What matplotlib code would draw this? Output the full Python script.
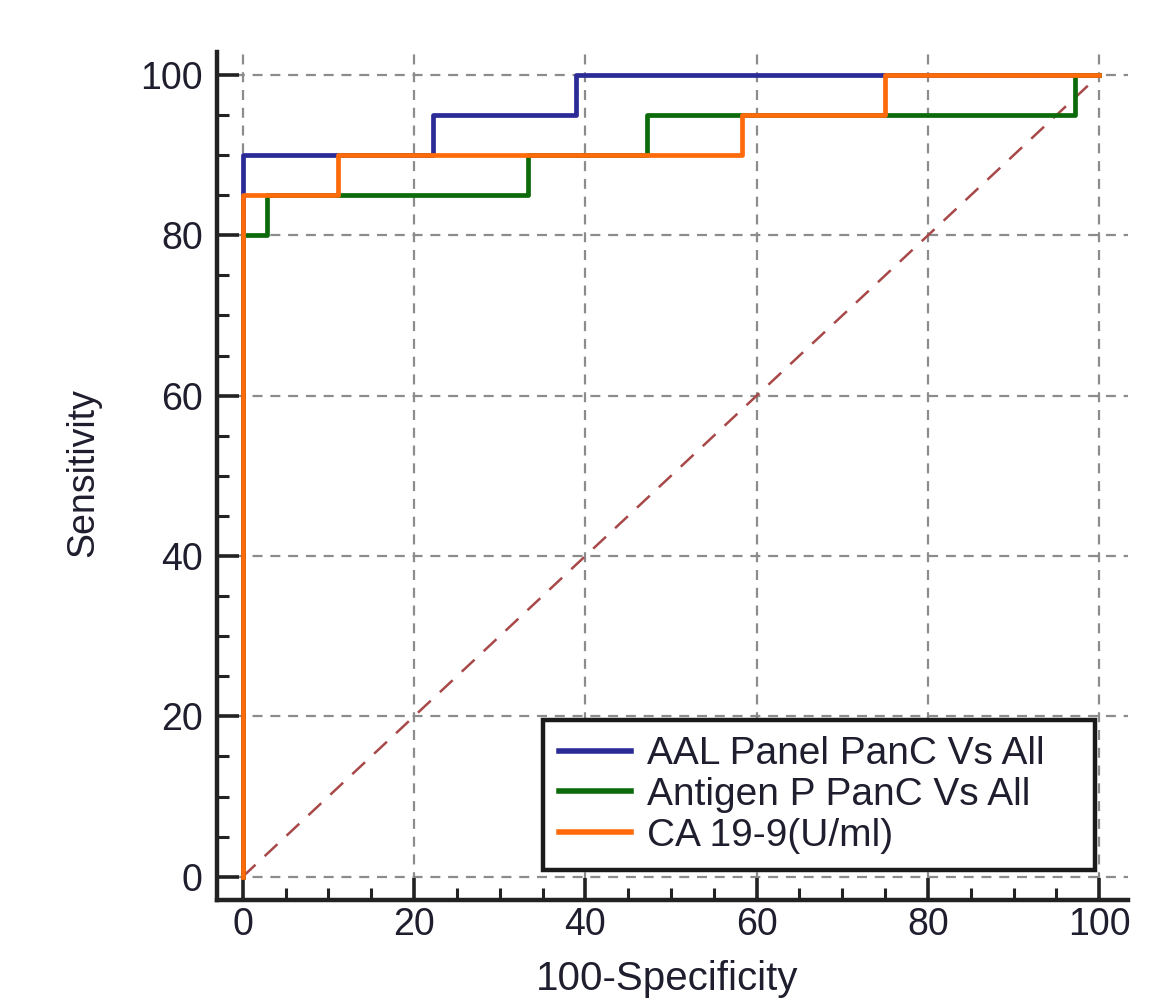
import matplotlib
matplotlib.use("Agg")
import matplotlib.pyplot as plt
from matplotlib.ticker import MultipleLocator

plt.rcParams['font.family'] = ['Liberation Sans', 'DejaVu Sans']

# ROC step data (100-Specificity, Sensitivity)
aal_x = [0, 0, 22.2, 38.9, 100]
aal_y = [0, 90, 95, 100, 100]
antigen_x = [0, 0, 2.8, 33.3, 47.2, 97.2, 100]
antigen_y = [0, 80, 85, 90, 95, 100, 100]
ca199_x = [0, 0, 11.1, 58.3, 75.0, 100]
ca199_y = [0, 85, 90, 95, 100, 100]
diag = [0, 100]

labels = ["AAL Panel PanC Vs All", "Antigen P PanC Vs All", "CA 19-9(U/ml)"]
colors = ["#2b2b98", "#0b6b0b", "#ff6a0a"]
ticks = [0, 20, 40, 60, 80, 100]

fig = plt.figure(figsize=(11.70, 9.99), dpi=100)
ax = fig.add_axes([0.1852, 0.0991, 0.9641 - 0.1852, 0.9482 - 0.0991])

ax.set_xlim(-3.04, 103.35)
ax.set_ylim(-2.91, 102.9)

# grid
for t in ticks:
    ax.axvline(t, color="#8c8c8c", lw=1.6, ls=(0, (4.5, 3.5)), zorder=1)
    ax.axhline(t, color="#8c8c8c", lw=1.6, ls=(0, (4.5, 3.5)), zorder=1)

# diagonal
ax.plot(diag, diag, color="#a84848", lw=1.8, ls=(0, (7, 5)), zorder=2)

ax.plot(aal_x, aal_y, drawstyle="steps-post", color=colors[0], lw=3.4, label=labels[0], zorder=3)
ax.plot(antigen_x, antigen_y, drawstyle="steps-post", color=colors[1], lw=3.4, label=labels[1], zorder=4)
ax.plot(ca199_x, ca199_y, drawstyle="steps-post", color=colors[2], lw=3.4, label=labels[2], zorder=5)

for s in ["top", "right"]:
    ax.spines[s].set_visible(False)
for s in ["left", "bottom"]:
    ax.spines[s].set_linewidth(3.2)
    ax.spines[s].set_color("#222222")

ax.set_xticks(ticks)
ax.set_yticks(ticks)
ax.xaxis.set_minor_locator(MultipleLocator(5))
ax.yaxis.set_minor_locator(MultipleLocator(5))
ax.tick_params(which="major", direction="in", length=16, width=2.6, color="#222222",
               labelsize=27, labelcolor="#1e1e2e")
ax.tick_params(axis="y", which="major", pad=10)
ax.tick_params(axis="x", which="major", pad=5)
ax.tick_params(which="minor", direction="in", length=8.5, width=2.2, color="#222222")

fig.text(83 / 1170, 1 - 473 / 999, "Sensitivity", rotation=90, ha="center", va="center",
         fontsize=27, color="#1e1e2e")
fig.text(667 / 1170, 9 / 999, "100-Specificity", ha="center", va="baseline",
         fontsize=29, color="#1e1e2e")

leg = ax.legend(loc="lower left", bbox_to_anchor=(0.358, 0.0354, 0.606, 0.2), mode="expand",
                borderaxespad=0, fontsize=28, handlelength=1.85, handletextpad=0.4,
                labelspacing=0.12, borderpad=0.42, fancybox=False, framealpha=1,
                edgecolor="#1a1a1a")
leg.get_frame().set_linewidth(3.2)
leg.set_zorder(10)
for line in leg.get_lines():
    line.set_linewidth(4)
for txt in leg.get_texts():
    txt.set_color("#1e1e2e")

fig.savefig("out.png", dpi=100)
